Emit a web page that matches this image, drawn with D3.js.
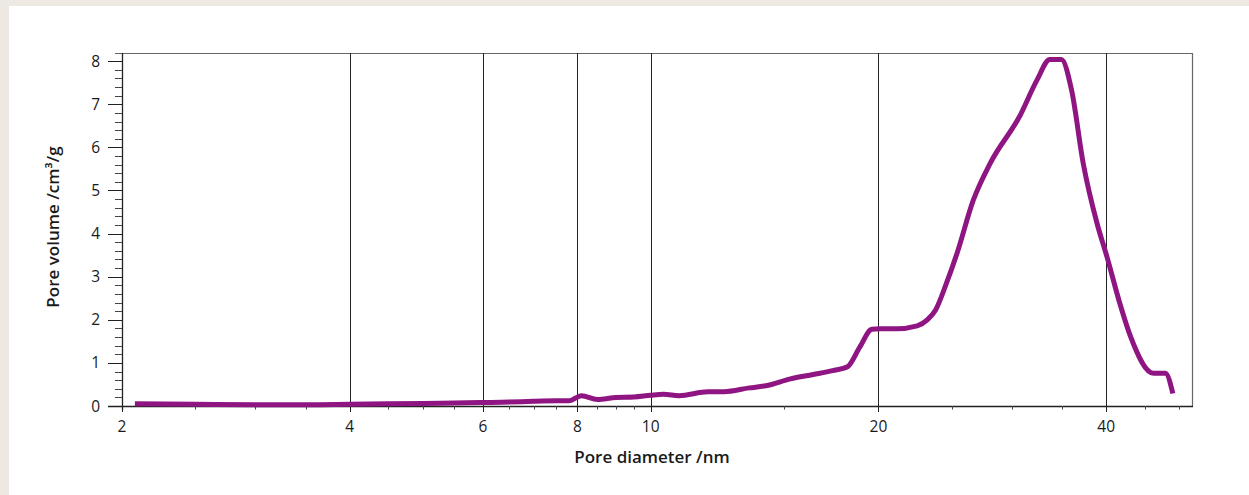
<!DOCTYPE html>
<html>
<head>
<meta charset="utf-8">
<script src="https://cdn.jsdelivr.net/npm/d3@7"></script>
<style>
  html, body { margin: 0; padding: 0; background: #ede9e2; }
  #chart { position: absolute; left: 9px; top: 6px; }
  text { font-family: "Open Sans", "Noto Sans", sans-serif; fill: #1a1a1a; }
</style>
</head>
<body>
<div id="chart"></div>
<script>
// pore size distribution
var diameter = [2.08, 2.5, 3, 3.5, 4, 4.5, 5, 5.5, 6, 6.5, 7, 7.5, 7.8, 8.1, 8.5, 9, 9.5, 10, 10.4, 10.9,
  11.9, 12.5, 13.5, 14.2, 15.3, 16.4, 17.4, 18.2, 18.9, 19.6, 20.1, 21.1, 22.5, 23.2, 23.8, 24.6, 25.4,
  26.7, 28.1, 30.8, 32.4, 33.7, 34.9, 36.0, 37.3, 38.9, 40.1, 41.7, 43.0, 46.2, 47.9, 49.0]
var volume = [0.05, 0.04, 0.03, 0.03, 0.04, 0.05, 0.06, 0.07, 0.08, 0.09, 0.11, 0.12, 0.12, 0.24, 0.15, 0.2, 0.21, 0.25, 0.27, 0.24,
  0.33, 0.33, 0.42, 0.47, 0.63, 0.73, 0.82, 0.91, 1.37, 1.78, 1.79, 1.79, 1.86, 2.0, 2.23, 2.85, 3.54,
  4.78, 5.63, 6.75, 7.56, 8.04, 8.04, 7.33, 5.63, 4.24, 3.46, 2.38, 1.65, 0.76, 0.76, 0.29]

var xMajor = [2, 4, 6, 8, 10, 20, 40]
var xGrid = [4, 6, 8, 10, 20, 40]
var xMinor = [2.5, 3, 3.5, 4.5, 5, 5.5, 6.5, 7, 7.5, 8.5, 9, 9.5, 15, 25, 30, 35, 45, 50]
var yMajor = [0, 1, 2, 3, 4, 5, 6, 7, 8]

var svgw = 1240, svgh = 489
var margin = {top: 47, right: 56, bottom: 83, left: 113}
var w = 1193 - 122, h = 406 - 53

var svg = d3.select('#chart').append('svg')
  .attr('width', svgw).attr('height', svgh)
svg.append('rect').attr('width', svgw).attr('height', svgh).attr('fill', '#fff')
var g = svg.append('g').attr('transform', 'translate(' + margin.left + ',' + margin.top + ')')

var x = d3.scaleLog().domain([2, 52.1]).range([0, w])
var y = d3.scaleLinear().domain([0, 8.19]).range([h, 0])

// frame top and right
g.append('path')
  .attr('d', 'M-7,0.5H' + (w - 0.5) + 'V' + h)
  .attr('fill', 'none').attr('stroke', '#666').attr('stroke-width', 1.2)

// vertical grid lines
g.selectAll('.grid').data(xGrid).enter().append('line')
  .attr('class', 'grid')
  .attr('x1', function(d){ return Math.round(x(d)) + 0.5 })
  .attr('x2', function(d){ return Math.round(x(d)) + 0.5 })
  .attr('y1', 0).attr('y2', h + 6)
  .attr('stroke', '#222').attr('stroke-width', 1)

// x axis
var xAxis = g.append('g').attr('transform', 'translate(0,' + h + ')')
xAxis.append('line').attr('x1', -14).attr('x2', w).attr('y1', 0.5).attr('y2', 0.5)
  .attr('stroke', '#222').attr('stroke-width', 1.3)
xAxis.selectAll('.minor').data(xMinor).enter().append('line')
  .attr('x1', function(d){ return Math.round(x(d)) + 0.5 })
  .attr('x2', function(d){ return Math.round(x(d)) + 0.5 })
  .attr('y1', 0).attr('y2', 3.5)
  .attr('stroke', '#444')
xAxis.selectAll('.major').data(xMajor).enter().append('line')
  .attr('x1', function(d){ return Math.round(x(d)) + 0.5 })
  .attr('x2', function(d){ return Math.round(x(d)) + 0.5 })
  .attr('y1', 0).attr('y2', 6)
  .attr('stroke', '#222')
xAxis.selectAll('.lab').data(xMajor).enter().append('text')
  .attr('x', function(d){ return x(d) })
  .attr('y', 26)
  .attr('text-anchor', 'middle')
  .attr('font-size', 15.5)
  .text(function(d){ return d })

// y axis
var yAxis = g.append('g')
yAxis.append('line').attr('x1', 0.5).attr('x2', 0.5).attr('y1', 0).attr('y2', h + 4)
  .attr('stroke', '#222').attr('stroke-width', 1.3)
yAxis.selectAll('.minor').data(d3.range(0, 8.2, 0.2)).enter().append('line')
  .attr('y1', function(d){ return Math.round(y(d)) + 0.5 })
  .attr('y2', function(d){ return Math.round(y(d)) + 0.5 })
  .attr('x1', -7).attr('x2', 0)
  .attr('stroke', '#444')
yAxis.selectAll('.major').data(yMajor).enter().append('line')
  .attr('y1', function(d){ return Math.round(y(d)) + 0.5 })
  .attr('y2', function(d){ return Math.round(y(d)) + 0.5 })
  .attr('x1', -14).attr('x2', 0)
  .attr('stroke', '#222')
yAxis.selectAll('.lab').data(yMajor).enter().append('text')
  .attr('x', -22)
  .attr('y', function(d){ return y(d) + 5.5 })
  .attr('text-anchor', 'end')
  .attr('font-size', 15.5)
  .text(function(d){ return d })

// axis titles
g.append('text')
  .attr('x', 652 - 122).attr('y', 463 - 53)
  .attr('text-anchor', 'middle')
  .attr('font-size', 17).attr('font-weight', 600)
  .text('Pore diameter /nm')
g.append('text')
  .attr('transform', 'translate(' + (59 - 122) + ',' + (227 - 53) + ') rotate(-90)')
  .attr('text-anchor', 'middle')
  .attr('font-size', 17).attr('font-weight', 600)
  .text('Pore volume /cm³/g')

// the curve
var pts = diameter.map(function(d, i){ return [d, volume[i]] })
var line = d3.line()
  .x(function(d){ return x(d[0]) })
  .y(function(d){ return y(d[1]) })
  .curve(d3.curveMonotoneX)
g.append('path')
  .datum(pts)
  .attr('d', line)
  .attr('fill', 'none')
  .attr('stroke', '#8f1582')
  .attr('stroke-width', 5)
  .attr('stroke-linejoin', 'round')
</script>
</body>
</html>
